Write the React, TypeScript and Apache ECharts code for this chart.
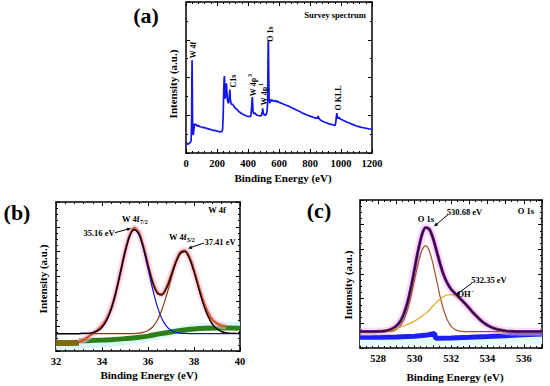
import React, { useEffect, useRef } from "react";
import * as echarts from "echarts";

const FONT = "Liberation Serif, Times New Roman, serif";

// ---------- (a) survey spectrum ----------
const surveyEnergy = [0, 8, 15, 22, 28, 33, 36, 38, 39, 40, 42, 44, 47, 50, 55, 60, 65, 72, 80, 90, 100, 110, 120, 130, 140, 150, 160, 170, 180, 190, 200, 210, 220, 230, 236, 240, 243, 246, 248, 250, 253, 256, 259, 261, 264, 268, 272, 276, 280, 283, 286, 290, 295, 300, 305, 310, 320, 330, 340, 350, 360, 370, 380, 390, 400, 410, 418, 422, 426, 428, 430, 433, 438, 445, 452, 460, 470, 480, 488, 492, 495, 498, 503, 510, 517, 522, 526, 528, 530, 531, 532, 534, 536, 540, 545, 551, 556, 562, 570, 578, 585, 592, 600, 610, 620, 630, 640, 650, 660, 670, 680, 690, 700, 710, 720, 730, 740, 750, 760, 770, 780, 790, 800, 810, 820, 830, 840, 848, 852, 856, 865, 875, 885, 895, 905, 915, 925, 935, 945, 955, 962, 966, 970, 973, 976, 980, 985, 990, 1000, 1010, 1020, 1030, 1040, 1050, 1060, 1070, 1080, 1090, 1100, 1110, 1120, 1130, 1140, 1150, 1160, 1170, 1180, 1190, 1200];
const surveyIntensity = [5.8, 6.2, 5.9, 6.5, 7.0, 8.5, 20, 50, 61.5, 55, 25, 13, 12, 15, 19.5, 18.5, 19.0, 17.8, 18.2, 17.4, 17.2, 16.8, 16.9, 16.3, 16.1, 15.8, 15.5, 15.2, 15.0, 14.8, 14.5, 14.3, 14.0, 14.2, 15.5, 25, 40, 49, 51, 44, 36, 38, 45, 46, 40, 35, 33, 33.5, 38, 42, 36, 33, 32, 32.5, 31.5, 31, 29.5, 28.8, 27.5, 26.8, 26, 25.5, 25, 24.5, 24.3, 24, 24.5, 28, 35, 37, 33, 27, 26, 26.5, 25.5, 25, 24.8, 24.5, 25, 27, 29.5, 27, 25.5, 25, 25.5, 27, 32, 50, 70, 74.7, 72, 50, 36, 33, 34, 35.5, 34.5, 34.8, 34.2, 34.8, 33.8, 34.3, 33.5, 33.2, 32.8, 32.3, 31.9, 31.5, 31.1, 30.7, 30.2, 29.7, 29.1, 28.6, 28.1, 27.6, 27.1, 26.5, 26.1, 25.7, 25.2, 24.8, 24.4, 24.1, 23.7, 23.4, 23.1, 22.9, 24.5, 23.2, 22.0, 21.4, 20.9, 20.4, 20.0, 19.6, 19.3, 19.0, 18.7, 18.4, 18.3, 20, 24, 26.4, 23.5, 22.8, 23.8, 23.0, 22.3, 21.8, 21.4, 20.9, 20.4, 20.0, 19.6, 19.1, 18.7, 18.3, 17.9, 17.6, 17.3, 17.0, 16.9, 16.6, 16.4, 16.2, 16.0, 15.9, 15.7];

// ---------- (b) W 4f ----------
const w4fEnergy = [32.0, 32.2, 32.4, 32.6, 32.8, 33.0, 33.2, 33.4, 33.6, 33.8, 34.0, 34.2, 34.4, 34.6, 34.8, 35.0, 35.2, 35.4, 35.6, 35.8, 36.0, 36.2, 36.4, 36.6, 36.8, 37.0, 37.2, 37.4, 37.6, 37.8, 38.0, 38.2, 38.4, 38.6, 38.8, 39.0, 39.2, 39.4, 39.6, 39.8, 40.0];
const w4f72Fit = [11.7, 11.7, 11.7, 11.7, 11.7, 11.7, 11.8, 11.9, 12.4, 13.5, 15.9, 20.5, 28.2, 39.2, 52.7, 66.4, 77.0, 81.5, 78.4, 68.8, 55.5, 41.7, 30.1, 21.8, 16.7, 13.9, 12.6, 12.0, 11.8, 11.7, 11.7, 11.7, 11.7, 11.7, 11.7, 11.7, 11.7, 11.7, 11.7, 11.7, 11.7];
const w4f52Fit = [11.7, 11.7, 11.7, 11.7, 11.7, 11.7, 11.7, 11.7, 11.7, 11.7, 11.7, 11.7, 11.7, 11.7, 11.7, 11.7, 11.7, 11.7, 12.0, 12.5, 13.7, 16.1, 20.5, 27.5, 37.0, 48.0, 58.3, 65.2, 66.7, 62.3, 53.4, 42.4, 31.9, 23.6, 18.0, 14.7, 13.0, 12.2, 11.9, 11.8, 11.7];
const w4fEnvelope = [11.7, 11.7, 11.7, 11.7, 11.7, 11.7, 11.8, 11.9, 12.4, 13.5, 15.9, 20.5, 28.2, 39.2, 52.7, 66.4, 77.0, 81.5, 78.7, 69.6, 57.5, 46.1, 38.9, 37.6, 42.0, 50.2, 59.2, 65.5, 66.8, 62.3, 53.4, 42.4, 31.9, 23.6, 18.0, 14.7, 13.0, 12.2, 11.9, 11.8, 11.7];
const w4fRawEnergy = [33.0, 33.2, 33.4, 33.6, 33.8, 34.0, 34.2, 34.4, 34.6, 34.8, 35.0, 35.2, 35.4, 35.6, 35.8, 36.0, 36.2, 36.4, 36.6, 36.8, 37.0, 37.2, 37.4, 37.6, 37.8, 38.0, 38.2, 38.4, 38.6, 38.8, 39.0, 39.2, 39.4];
const w4fRaw = [6.0, 7.5, 9.5, 11.8, 14.0, 17.0, 21.5, 28.5, 39.0, 52.5, 66.5, 77.5, 82.5, 79.5, 70.0, 57.5, 46.5, 39.5, 38.0, 42.5, 50.5, 59.5, 66.0, 67.5, 63.0, 54.0, 43.5, 33.5, 26.0, 21.0, 18.5, 17.2, 16.5];
const w4fBgEnergy = [33.0, 33.5, 34.0, 34.5, 35.0, 35.5, 36.0, 36.5, 37.0, 37.5, 38.0, 38.5, 39.0, 39.5, 40.0];
const w4fBg = [6.8, 7.0, 7.3, 7.7, 8.3, 9.1, 10.0, 11.5, 12.8, 13.9, 14.7, 15.2, 15.4, 15.4, 15.3];
const w4fLowEnergy = [32.0, 32.5, 33.0];
const w4fLow = [5.4, 5.4, 5.6];
const w4fBandEnergy = [32, 33, 34, 35, 36, 37, 38, 39, 40];
const w4fBand = [3.5, 4.0, 5.0, 6.5, 9.0, 12.5, 15.5, 16.8, 17.0];

// ---------- (c) O 1s ----------
const o1sEnergy = [527.0, 527.2, 527.4, 527.6, 527.8, 528.0, 528.2, 528.4, 528.6, 528.8, 529.0, 529.2, 529.4, 529.6, 529.8, 530.0, 530.2, 530.4, 530.6, 530.8, 531.0, 531.2, 531.4, 531.6, 531.8, 532.0, 532.2, 532.4, 532.6, 532.8, 533.0, 533.2, 533.4, 533.6, 533.8, 534.0, 534.2, 534.4, 534.6, 534.8, 535.0, 535.2, 535.4, 535.6, 535.8, 536.0, 536.2, 536.4, 536.6, 536.8, 537.0];
const o1sLattice = [11.0, 11.0, 11.0, 11.0, 11.0, 11.0, 11.0, 11.1, 11.2, 11.6, 12.7, 14.8, 18.9, 25.5, 34.8, 46.2, 57.4, 65.9, 69.0, 65.9, 57.4, 46.2, 34.8, 25.5, 18.9, 14.8, 12.7, 11.6, 11.2, 11.1, 11.0, 11.0, 11.0, 11.0, 11.0, 11.0, 11.0, 11.0, 11.0, 11.0, 11.0, 11.0, 11.0, 11.0, 11.0, 11.0, 11.0, 11.0, 11.0, 11.0, 11.0];
const o1sHydroxyl = [11.0, 11.0, 11.0, 11.0, 11.1, 11.2, 11.3, 11.5, 12.0, 12.6, 13.3, 14.0, 14.9, 15.9, 17.0, 18.3, 19.8, 21.5, 23.4, 25.5, 28.2, 30.8, 33.1, 34.8, 35.8, 36.0, 35.4, 34.0, 32.0, 29.5, 26.9, 24.1, 21.5, 19.1, 17.1, 15.4, 14.1, 13.1, 12.4, 11.9, 11.5, 11.3, 11.2, 11.1, 11.0, 11.0, 11.0, 11.0, 11.0, 11.0, 11.0];
const o1sEnvelope = [11.0, 11.0, 11.0, 11.0, 11.1, 11.2, 11.3, 11.6, 12.2, 13.2, 15.0, 17.8, 22.8, 30.4, 40.8, 53.5, 66.2, 76.4, 81.4, 80.4, 74.6, 66.0, 56.9, 49.3, 43.7, 39.8, 37.1, 34.6, 32.2, 29.6, 26.9, 24.1, 21.5, 19.1, 17.1, 15.4, 14.1, 13.1, 12.4, 11.9, 11.5, 11.3, 11.2, 11.1, 11.0, 11.0, 11.0, 11.0, 11.0, 11.0, 11.0];
const o1sBgEnergy = [527, 528, 529, 530, 530.7, 531.1, 531.15, 532, 533, 534, 535, 536, 537];
const o1sBg = [7.2, 7.3, 7.5, 8.0, 8.8, 9.8, 6.6, 6.8, 7.2, 7.7, 8.3, 8.9, 9.5];
const o1sBandEnergy = [527, 530, 533, 537];
const o1sBand = [4.2, 4.4, 4.6, 5.2];

const zip = (xs: number[], ys: number[]) => xs.map((x, i) => [x, ys[i]]);

function axesFor(grid: number, min: number, max: number, interval: number, minorSplit: number, fmt: (v: number) => string) {
  const line = { show: true, onZero: false, lineStyle: { color: "#000", width: 1.5 } };
  const tick = { show: true, inside: true, length: 4, lineStyle: { color: "#000", width: 1 } };
  const minor = { show: true, splitNumber: minorSplit, length: 2, lineStyle: { color: "#000", width: 1 } };
  return [
    {
      type: "value", gridIndex: grid, min, max, interval, position: "bottom",
      axisLine: line, axisTick: tick, minorTick: minor, splitLine: { show: false },
      axisLabel: { show: true, margin: 5, color: "#000", fontFamily: FONT, fontWeight: "bold", fontSize: 10.5, formatter: fmt },
    },
    {
      type: "value", gridIndex: grid, min, max, interval, position: "top",
      axisLine: line, axisTick: tick, minorTick: minor, splitLine: { show: false },
      axisLabel: { show: false },
    },
  ];
}

function yAxesFor(grid: number, interval: number, minorSplit: number) {
  const line = { show: true, onZero: false, lineStyle: { color: "#000", width: 1.5 } };
  const tick = { show: true, inside: true, length: 4, lineStyle: { color: "#000", width: 1 } };
  const minor = { show: true, splitNumber: minorSplit, length: 2, lineStyle: { color: "#000", width: 1 } };
  return ["left", "right"].map((pos) => ({
    type: "value", gridIndex: grid, min: 0, max: 100, interval, position: pos,
    axisLine: line, axisTick: tick, minorTick: minor, splitLine: { show: false },
    axisLabel: { show: false },
  }));
}

function text(t: string, x: number, y: number, size: number, opts: any = {}) {
  return {
    type: "text", x, y, z: 100, rotation: opts.rotation || 0,
    style: {
      text: t, fill: "#000", fontFamily: FONT, fontWeight: "bold", fontSize: size,
      textAlign: opts.align || "center", textVerticalAlign: "middle",
    },
  };
}

function arrow(x1: number, y1: number, x2: number, y2: number) {
  const dx = x2 - x1, dy = y2 - y1;
  const len = Math.sqrt(dx * dx + dy * dy);
  const ux = dx / len, uy = dy / len;
  const hl = 4, hw = 1.8;
  const bx = x2 - ux * hl, by = y2 - uy * hl;
  return [
    { type: "line", z: 100, shape: { x1, y1, x2: bx, y2: by }, style: { stroke: "#000", lineWidth: 1 } },
    {
      type: "polygon", z: 100,
      shape: { points: [[x2, y2], [bx - uy * hw, by + ux * hw], [bx + uy * hw, by - ux * hw]] },
      style: { fill: "#000" },
    },
  ];
}

const line = (xi: number, data: number[][], color: string, width: number, smooth = 0.3) => ({
  type: "line", xAxisIndex: xi, yAxisIndex: xi, data, symbol: "none", showSymbol: false,
  smooth, lineStyle: { color, width }, silent: true,
});

export default function App() {
  const ref = useRef<HTMLDivElement>(null);
  useEffect(() => {
    document.body.style.margin = "0";
    if (!ref.current) return;
    const chart = echarts.init(ref.current, undefined, { renderer: "svg" });
    const R = Math.PI / 2;
    const graphic: any[] = [
      // panel labels
      text("(a)", 146, 15, 22),
      text("(b)", 17, 212, 22),
      text("(c)", 319, 210, 22),
      // axis titles
      text("Binding Energy (eV)", 283, 178, 11),
      text("Binding Energy (eV)", 149, 375, 11),
      text("Binding Energy (eV)", 455, 377, 11),
      text("Intensity (a.u.)", 173, 84, 11, { rotation: R }),
      text("Intensity (a.u.)", 43, 279, 11, { rotation: R }),
      text("Intensity (a.u.)", 348, 285, 11, { rotation: R }),
      // (a) annotations
      text("Survey spectrum", 335, 15, 8.5),
      text("W 4f", 193, 50, 8, { rotation: R }),
      text("C1s", 233, 81, 8, { rotation: R }),
      text("W 4p", 253, 87, 8, { rotation: R }),
      text("3", 249.5, 75.5, 6, { rotation: R }),
      text("W 4p", 264, 96, 8, { rotation: R }),
      text("1", 260.5, 84.5, 6, { rotation: R }),
      text("O 1s", 270, 34, 8, { rotation: R }),
      text("O KLL", 338, 98, 8, { rotation: R }),
      // (b) annotations
      text("W 4f", 217, 210, 8.5),
      text("W 4f", 122, 219, 8.5, { align: "left" }),
      text("7/2", 140, 222, 6, { align: "left" }),
      text("35.16 eV", 99, 233, 8.5),
      ...arrow(115, 232.7, 131, 228.3),
      text("W 4f", 169, 237, 8.5, { align: "left" }),
      text("5/2", 187, 240, 6, { align: "left" }),
      text("37.41 eV", 220, 242, 8.5),
      ...arrow(204, 243, 188, 248.5),
      // (c) annotations
      text("O 1s", 526, 211, 8.5),
      text("O 1s", 426, 219, 8.5),
      text("530.68 eV", 464.5, 212, 8.5),
      ...arrow(448, 214.5, 434, 226.5),
      text("532.35 eV", 489, 280, 8.5),
      ...arrow(472, 283, 456, 295),
      text("OH", 457.5, 294, 8.5, { align: "left" }),
      text("-", 471.5, 290.5, 6, { align: "left" }),
    ];

    chart.setOption({
      animation: false,
      backgroundColor: "#fff",
      grid: [
        { left: 186, top: 2, width: 186, height: 151, containLabel: false, outerBoundsMode: "none" },
        { left: 56, top: 202, width: 184, height: 149, containLabel: false, outerBoundsMode: "none" },
        { left: 360, top: 200, width: 182, height: 148, containLabel: false, outerBoundsMode: "none" },
      ],
      xAxis: [
        ...axesFor(0, 0, 1200, 200, 5, (v: number) => String(v)),
        ...axesFor(1, 32, 40, 2, 5, (v: number) => String(v)),
        ...axesFor(2, 527, 537, 1, 3, (v: number) => (Math.round(v) % 2 === 0 ? String(v) : "")),
      ],
      yAxis: [...yAxesFor(0, 25, 2), ...yAxesFor(1, 100 / 6, 4), ...yAxesFor(2, 100 / 6, 4)],
      series: [
        line(0, zip(surveyEnergy, surveyIntensity), "#1414ee", 1.7, 0),
        // (b)
        line(2, zip(w4fBandEnergy, w4fBand), "#d8f8f8", 8),
        line(2, zip(w4fLowEnergy, w4fLow), "#7d6a12", 6, 0),
        line(2, zip(w4fBgEnergy, w4fBg), "#2f7f18", 5),
        line(2, zip(w4fRawEnergy, w4fRaw), "rgba(255,185,225,0.55)", 7),
        line(2, zip(w4fRawEnergy, w4fRaw), "#cf5a2a", 2.6),
        line(2, zip(w4fEnergy, w4f72Fit), "#1010d0", 1.2),
        line(2, zip(w4fEnergy, w4f52Fit), "#8a3a12", 1.2),
        line(2, zip(w4fEnergy, w4fEnvelope), "#000", 1.2),
        // (c)
        line(4, zip(o1sBandEnergy, o1sBand), "#e4fcfc", 8),
        line(4, zip(o1sBgEnergy, o1sBg), "#1f1ff5", 5, 0),
        line(4, zip(o1sEnergy, o1sEnvelope), "rgba(255,185,240,0.5)", 8),
        line(4, zip(o1sEnergy, o1sEnvelope), "#8a2aa8", 3.2),
        line(4, zip(o1sEnergy, o1sLattice), "#a0522d", 1.2),
        line(4, zip(o1sEnergy, o1sHydroxyl), "#e0a81e", 1.2),
        line(4, zip(o1sEnergy, o1sEnvelope), "#2b0b3f", 1.8),
      ],
      graphic,
    });
    return () => chart.dispose();
  }, []);
  return <div ref={ref} style={{ width: 550, height: 386 }} />;
}
